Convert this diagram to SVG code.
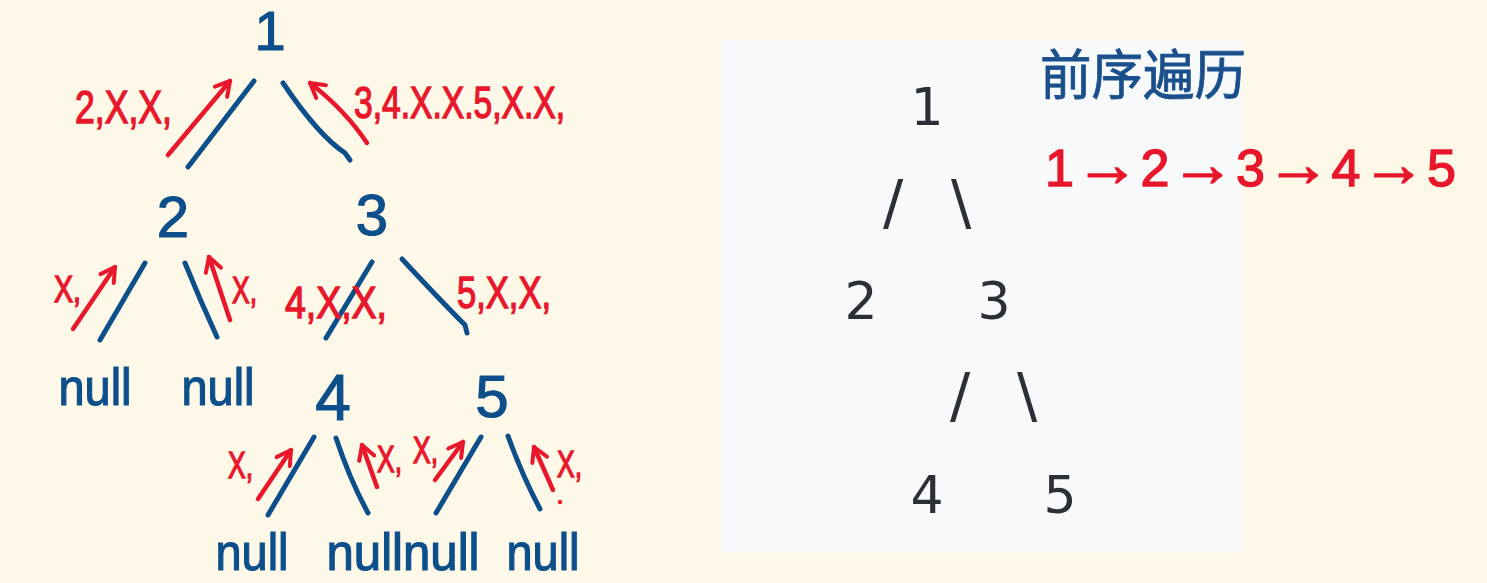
<svg xmlns="http://www.w3.org/2000/svg" width="1487" height="583" viewBox="0 0 1487 583">
<style>
.bg{fill:#fdf8e7}
.panel{fill:#f7f9fb}
.edge{fill:none;stroke:#0d4f8b;stroke-width:5;stroke-linecap:round;stroke-linejoin:round}
.arr{fill:none;stroke:#e8172c;stroke-width:4.5;stroke-linecap:round;stroke-linejoin:round}
.hand{font-family:"Liberation Sans","Noto Sans",sans-serif;fill:#0d4f8b;stroke:#0d4f8b;stroke-width:1.2;text-anchor:middle}
.red{font-family:"Liberation Sans","Noto Sans",sans-serif;fill:#e8172c;stroke:#e8172c;stroke-width:1.4}
.code{font-family:"DejaVu Sans",sans-serif;fill:#2a3035;text-anchor:middle}
.cjk{font-family:"Noto Sans CJK SC","Noto Sans",sans-serif;fill:#1a4f8c;stroke:#1a4f8c;stroke-width:0.8}
</style>
<defs>
<marker id="ah" viewBox="0 0 20 20" refX="17" refY="10" markerWidth="20" markerHeight="20" markerUnits="userSpaceOnUse" orient="auto">
<path d="M3,2 L17,10 L3,18" fill="none" stroke="#e8172c" stroke-width="4" stroke-linecap="round" stroke-linejoin="round"/>
</marker>
</defs>
<rect class="bg" x="0" y="0" width="1487" height="583"/>
<rect class="panel" x="722" y="40" width="520" height="513"/>

<g id="connectors">
<path class="edge" d="M254,81 L188,167"/>
<path class="edge" d="M283,83 Q318,135 345,153 L350,160"/>
<path class="edge" d="M145,263 L100,340"/>
<path class="edge" d="M185,263 Q200,300 217,337"/>
<path class="edge" d="M372,262 L326,338"/>
<path class="edge" d="M402,259 Q440,300 465,325 L467,333"/>
<path class="edge" d="M314,437 L268,515"/>
<path class="edge" d="M336,438 Q350,480 368,513"/>
<path class="edge" d="M481,437 L436,513"/>
<path class="edge" d="M508,436 Q522,475 540,509"/>
<path class="arr" marker-end="url(#ah)" d="M168,155 L230,81"/>
<path class="arr" marker-end="url(#ah)" d="M367,143 Q345,110 310,83"/>
<path class="arr" marker-end="url(#ah)" d="M73,329 L115,267"/>
<path class="arr" marker-end="url(#ah)" d="M230,320 L209,257"/>
<path class="arr" marker-end="url(#ah)" d="M258,499 L291,450"/>
<path class="arr" marker-end="url(#ah)" d="M377,487 L362,445"/>
<path class="arr" marker-end="url(#ah)" d="M435,480 L463,442"/>
<path class="arr" marker-end="url(#ah)" d="M553,490 L534,447"/>
<circle cx="560" cy="502" r="2.2" fill="#e8172c"/>
</g>

<g id="labels">
<text class="red" x="75" y="123" font-size="46" textLength="97" lengthAdjust="spacingAndGlyphs">2,X,X,</text>
<text class="red" x="354" y="118" font-size="44" textLength="211" lengthAdjust="spacingAndGlyphs">3,4.X.X.5,X.X,</text>
<text class="red" x="54" y="302" font-size="37" textLength="27" lengthAdjust="spacingAndGlyphs">X,</text>
<text class="red" x="232" y="303" font-size="37" textLength="25" lengthAdjust="spacingAndGlyphs">X,</text>
<text class="red" x="285" y="318" font-size="44" textLength="102" lengthAdjust="spacingAndGlyphs">4,X,X,</text>
<text class="red" x="457" y="308" font-size="44" textLength="94" lengthAdjust="spacingAndGlyphs">5,X,X,</text>
<text class="red" x="228" y="478" font-size="37" textLength="25" lengthAdjust="spacingAndGlyphs">X,</text>
<text class="red" x="377" y="472" font-size="37" textLength="25" lengthAdjust="spacingAndGlyphs">X,</text>
<text class="red" x="413" y="463" font-size="37" textLength="25" lengthAdjust="spacingAndGlyphs">X,</text>
<text class="red" x="557" y="477" font-size="37" textLength="25" lengthAdjust="spacingAndGlyphs">X,</text>
</g>

<g id="n1"><text class="hand" x="270" y="50" font-size="56">1</text></g>
<g id="n2"><text class="hand" x="173" y="237" font-size="58">2</text></g>
<g id="n3"><text class="hand" x="372" y="235" font-size="58">3</text></g>
<g id="n4"><text class="hand" x="333" y="420" font-size="64">4</text></g>
<g id="n5"><text class="hand" x="492" y="417" font-size="60">5</text></g>
<g id="null1"><text class="hand" x="95" y="405" font-size="52" textLength="73" lengthAdjust="spacingAndGlyphs">null</text></g>
<g id="null2"><text class="hand" x="218" y="405" font-size="52" textLength="73" lengthAdjust="spacingAndGlyphs">null</text></g>
<g id="null3"><text class="hand" x="252" y="570" font-size="52" textLength="73" lengthAdjust="spacingAndGlyphs">null</text></g>
<g id="null45"><text class="hand" x="403" y="570" font-size="52" textLength="153" lengthAdjust="spacingAndGlyphs">nullnull</text></g>
<g id="null6"><text class="hand" x="543" y="570" font-size="52" textLength="73" lengthAdjust="spacingAndGlyphs">null</text></g>

<g id="panel-tree">
<g id="r1"><text class="code" x="927" y="125" font-size="52">1</text></g>
<text class="code" x="893" y="223" font-size="60">/</text>
<text class="code" x="961" y="223" font-size="60">\</text>
<g id="r2"><text class="code" x="861" y="319" font-size="52">2</text></g>
<g id="r3"><text class="code" x="994" y="319" font-size="52">3</text></g>
<text class="code" x="960" y="416" font-size="60">/</text>
<text class="code" x="1027" y="416" font-size="60">\</text>
<g id="r4"><text class="code" x="927" y="513" font-size="52">4</text></g>
<g id="r5"><text class="code" x="1060" y="513" font-size="52">5</text></g>
</g>

<g id="title"><text class="cjk" x="1040" y="95" font-size="54" textLength="206" lengthAdjust="spacingAndGlyphs">前序遍历</text></g>
<g id="order"><text class="red" x="1045" y="186" font-size="52" textLength="411" font-family="DejaVu Sans, sans-serif">1<tspan font-size="64">→</tspan>2<tspan font-size="64">→</tspan>3<tspan font-size="64">→</tspan>4<tspan font-size="64">→</tspan>5</text></g>
</svg>
